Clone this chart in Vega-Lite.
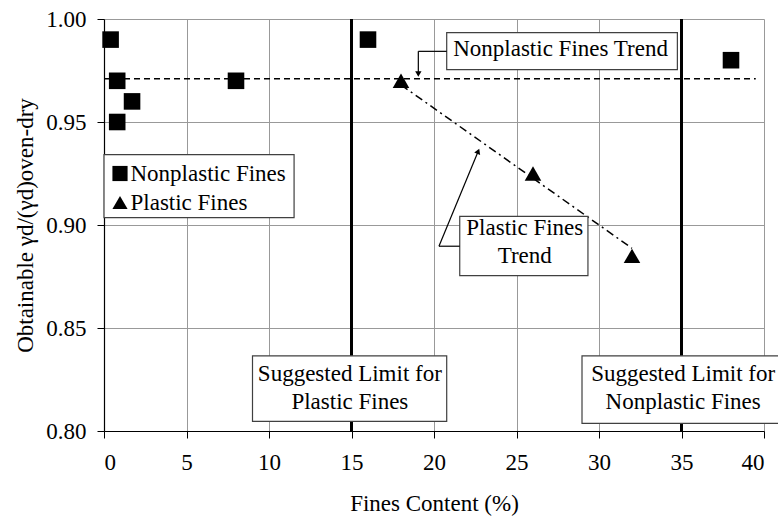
{
  "$schema": "https://vega.github.io/schema/vega-lite/v6.json",
  "width": 660,
  "height": 412,
  "autosize": {"type": "none"},
  "padding": {"left": 104, "top": 19, "right": 14, "bottom": 86},
  "background": "white",
  "config": {
    "view": {"stroke": null},
    "font": "Liberation Serif",
    "axis": {
      "labelFont": "Liberation Serif",
      "titleFont": "Liberation Serif",
      "labelFontSize": 23,
      "titleFontSize": 23,
      "titleFontWeight": "normal",
      "labelColor": "black",
      "titleColor": "black",
      "domainColor": "black",
      "domainWidth": 1.2,
      "tickColor": "black",
      "tickSize": 7,
      "gridColor": "#999999",
      "gridWidth": 1
    },
    "legend": {
      "labelFont": "Liberation Serif",
      "labelFontSize": 23,
      "labelColor": "black"
    }
  },
  "datasets": {
    "pts": [
      {"fc": 0.4, "r": 0.99, "type": "Nonplastic Fines"},
      {"fc": 0.8, "r": 0.97, "type": "Nonplastic Fines"},
      {"fc": 0.8, "r": 0.95, "type": "Nonplastic Fines"},
      {"fc": 1.7, "r": 0.96, "type": "Nonplastic Fines"},
      {"fc": 8, "r": 0.97, "type": "Nonplastic Fines"},
      {"fc": 16, "r": 0.99, "type": "Nonplastic Fines"},
      {"fc": 38, "r": 0.98, "type": "Nonplastic Fines"},
      {"fc": 18, "r": 0.97, "type": "Plastic Fines"},
      {"fc": 26, "r": 0.925, "type": "Plastic Fines"},
      {"fc": 32, "r": 0.885, "type": "Plastic Fines"}
    ],
    "limits": [
      {"fc": 15, "fc2": 15, "r": 0.8, "r2": 1.0},
      {"fc": 35, "fc2": 35, "r": 0.8, "r2": 1.0}
    ],
    "trends": [
      {"fc": 0, "fc2": 39.5, "r": 0.971, "r2": 0.971}
    ],
    "ptrend": [
      {"fc": 18, "fc2": 32, "r": 0.968, "r2": 0.8887}
    ],
    "boxes": [
      {"fc": 0, "fc2": 11.52, "r": 0.9342, "r2": 0.9036},
      {"fc": 9.0, "fc2": 20.77, "r": 0.8365, "r2": 0.8047},
      {"fc": 28.97, "fc2": 41.5, "r": 0.8365, "r2": 0.8037},
      {"fc": 20.77, "fc2": 34.75, "r": 0.9934, "r2": 0.9754},
      {"fc": 21.56, "fc2": 29.33, "r": 0.9042, "r2": 0.8754}
    ],
    "labels": [
      {"fc": 14.9, "r": 0.8242, "t": "Suggested Limit for\nPlastic Fines"},
      {"fc": 35.1, "r": 0.8242, "t": "Suggested Limit for\nNonplastic Fines"},
      {"fc": 27.67, "r": 0.9819, "t": "Nonplastic Fines Trend"},
      {"fc": 25.5, "r": 0.895, "t": "Plastic Fines\nTrend"}
    ],
    "arrows": [
      {"fc": 20.77, "fc2": 19.05, "r": 0.9843, "r2": 0.9843},
      {"fc": 19.05, "fc2": 19.05, "r": 0.9843, "r2": 0.9728},
      {"fc": 21.56, "fc2": 20.3, "r": 0.8897, "r2": 0.8897},
      {"fc": 20.3, "fc2": 22.68, "r": 0.8897, "r2": 0.9358}
    ],
    "heads": [
      {"fc": 19.05, "r": 0.9733, "a": 180},
      {"fc": 22.68, "r": 0.9358, "a": 22}
    ]
  },
  "encoding": {
    "x": {
      "field": "fc",
      "type": "quantitative",
      "scale": {"domain": [0, 40], "nice": false},
      "axis": {
        "values": [0, 5, 10, 15, 20, 25, 30, 35, 40],
        "title": "Fines Content (%)",
        "labelPadding": 13,
        "titlePadding": 18
      }
    },
    "y": {
      "field": "r",
      "type": "quantitative",
      "scale": {"domain": [0.8, 1.0], "nice": false, "zero": false},
      "axis": {
        "values": [0.8, 0.85, 0.9, 0.95, 1.0],
        "format": ".2f",
        "title": "Obtainable γd/(γd)oven-dry",
        "labelPadding": 11,
        "titlePadding": 8
      }
    }
  },
  "layer": [
    {
      "data": {"name": "limits"},
      "mark": {"type": "rule", "color": "black", "strokeWidth": 3},
      "encoding": {"x2": {"field": "fc2"}, "y2": {"field": "r2"}}
    },
    {
      "data": {"name": "trends"},
      "mark": {"type": "rule", "color": "black", "strokeWidth": 1.5, "strokeDash": [6, 4]},
      "encoding": {"x2": {"field": "fc2"}, "y2": {"field": "r2"}}
    },
    {
      "data": {"name": "ptrend"},
      "mark": {"type": "rule", "color": "black", "strokeWidth": 1.5, "strokeDash": [8, 4, 2, 4]},
      "encoding": {"x2": {"field": "fc2"}, "y2": {"field": "r2"}}
    },
    {
      "data": {"name": "pts"},
      "mark": {"type": "point", "filled": true, "color": "black", "opacity": 1, "size": 275},
      "encoding": {
        "shape": {
          "field": "type",
          "type": "nominal",
          "scale": {"domain": ["Nonplastic Fines", "Plastic Fines"], "range": ["square", "triangle-up"]},
          "legend": {
            "title": null,
            "orient": "none",
            "legendX": 0.5,
            "legendY": 139,
            "symbolSize": 230,
            "symbolFillColor": "black",
            "symbolStrokeWidth": 0,
            "symbolOpacity": 1,
            "labelOffset": -1,
            "rowPadding": 5,
            "padding": 4,
            "zindex": 2
          }
        }
      }
    },
    {
      "data": {"name": "boxes"},
      "mark": {"type": "rect", "fill": "white", "stroke": "#404040", "strokeWidth": 1.2},
      "encoding": {"x2": {"field": "fc2"}, "y2": {"field": "r2"}}
    },
    {
      "data": {"name": "labels"},
      "mark": {"type": "text", "font": "Liberation Serif", "fontSize": 23, "align": "center", "baseline": "alphabetic", "lineBreak": "\n", "lineHeight": 27.5, "color": "black"},
      "encoding": {"text": {"field": "t"}}
    },
    {
      "data": {"name": "arrows"},
      "mark": {"type": "rule", "color": "black", "strokeWidth": 1.2},
      "encoding": {"x2": {"field": "fc2"}, "y2": {"field": "r2"}}
    },
    {
      "data": {"name": "heads"},
      "mark": {"type": "point", "shape": "triangle-up", "filled": true, "color": "black", "size": 40, "opacity": 1},
      "encoding": {
        "angle": {"field": "a", "type": "quantitative", "scale": null}
      }
    }
  ]
}
